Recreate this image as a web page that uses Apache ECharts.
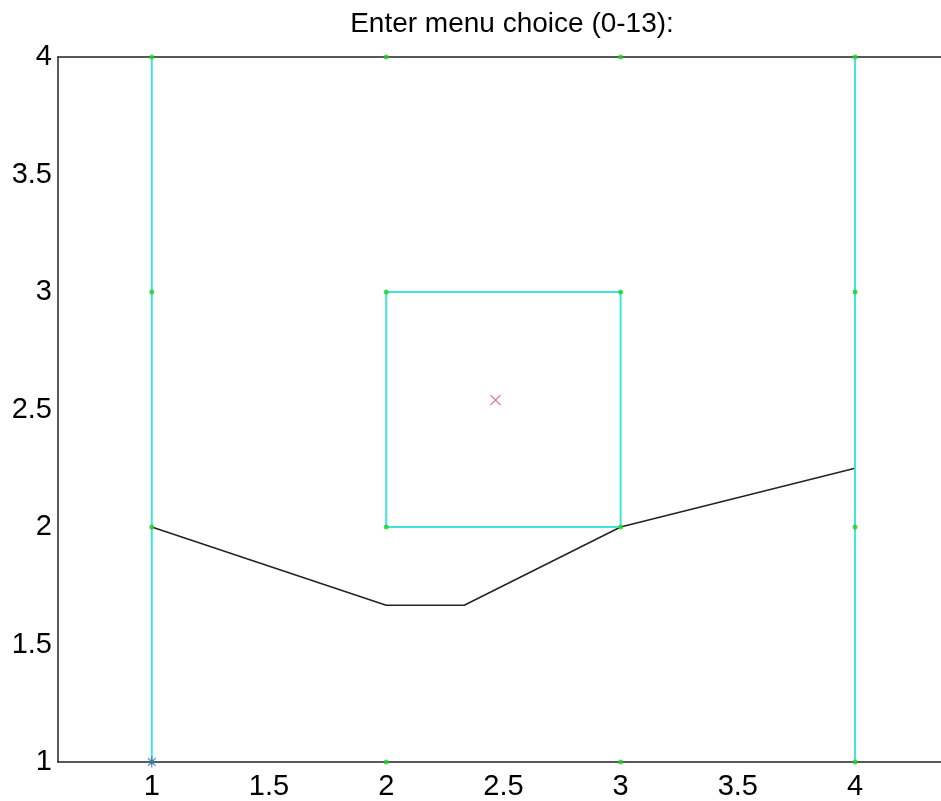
<!DOCTYPE html>
<html>
<head>
<meta charset="utf-8">
<script src="https://cdn.jsdelivr.net/npm/echarts@6/dist/echarts.min.js"></script>
<style>html,body{margin:0;padding:0;background:#fff;}#c{width:941px;height:801px;}</style>
</head>
<body>
<div id="c"></div>
<script>
const titleText = 'Enter menu choice (0-13):';
const xTicks = [1, 1.5, 2, 2.5, 3, 3.5, 4];
const yTicks = [1, 1.5, 2, 2.5, 3, 3.5, 4];
// cyan boundary segments
const leftEdge = [[1, 1], [1, 4]];
const rightEdge = [[4, 1], [4, 4]];
const square = [[2, 2], [3, 2], [3, 3], [2, 3], [2, 2]];
// black polyline
const pathX = [1, 2, 2.333, 3, 4];
const pathY = [2, 1.667, 1.667, 2, 2.25];
// green nodes
const nodes = [
  [1, 1], [2, 1], [3, 1], [4, 1],
  [1, 2], [2, 2], [3, 2], [4, 2],
  [1, 3], [2, 3], [3, 3], [4, 3],
  [1, 4], [2, 4], [3, 4], [4, 4]
];
const redMark = [[2.466, 2.54]];
const blueMark = [[1, 1]];

const chart = echarts.init(document.getElementById('c'));
const font = 'Liberation Sans';
const cyan = '#3fe3df';
const lbl = { color: '#000', fontFamily: font, fontSize: 29, formatter: v => String(v) };
chart.setOption({
  animation: false,
  backgroundColor: '#fff',
  title: {
    text: titleText, left: 507, top: 5, textAlign: 'center',
    textStyle: { fontFamily: font, fontSize: 28, fontWeight: 'normal', color: '#000' }
  },
  grid: { left: 58, top: 57, right: 0, bottom: 39, show: false },
  xAxis: [
    {
      type: 'value', min: 0.6, max: 4.3666, position: 'bottom',
      axisLine: { show: true, onZero: false, lineStyle: { color: '#222', width: 1.5 } },
      axisTick: { show: false }, splitLine: { show: false },
      axisLabel: Object.assign({ customValues: xTicks, margin: 10 }, lbl)
    },
    {
      type: 'value', min: 0.6, max: 4.3666, position: 'top',
      axisLine: { show: true, onZero: false, lineStyle: { color: '#222', width: 1.5 } },
      axisTick: { show: false }, splitLine: { show: false }, axisLabel: { show: false }
    }
  ],
  yAxis: {
    type: 'value', min: 1, max: 4,
    axisLine: { show: true, onZero: false, lineStyle: { color: '#222', width: 1.5 } },
    axisTick: { show: false }, splitLine: { show: false },
    axisLabel: Object.assign({ customValues: yTicks, margin: 6 }, lbl)
  },
  series: [
    { type: 'line', data: pathX.map((x, i) => [x, pathY[i]]), symbol: 'none',
      lineStyle: { color: '#222', width: 1.5 }, z: 2 },
    { type: 'line', data: leftEdge, symbol: 'none', lineStyle: { color: cyan, width: 2 }, z: 3 },
    { type: 'line', data: rightEdge, symbol: 'none', lineStyle: { color: cyan, width: 2 }, z: 3 },
    { type: 'line', data: square, symbol: 'none', lineStyle: { color: cyan, width: 2 }, z: 3 },
    { type: 'scatter', data: nodes, symbol: 'circle', symbolSize: 5,
      itemStyle: { color: '#1fd21f' }, z: 4 },
    { type: 'scatter', data: redMark, symbol: 'path://M0,0L10,10M10,0L0,10', symbolSize: 10,
      itemStyle: { color: 'transparent', borderColor: '#d9505f', borderWidth: 1.2 }, z: 5 },
    { type: 'scatter', data: blueMark,
      symbol: 'path://M5,0L5,10M0,5L10,5M1.5,1.5L8.5,8.5M8.5,1.5L1.5,8.5', symbolSize: 11,
      itemStyle: { color: 'transparent', borderColor: '#3e5fc0', borderWidth: 1.2 }, z: 5 }
  ]
});
</script>
</body>
</html>
